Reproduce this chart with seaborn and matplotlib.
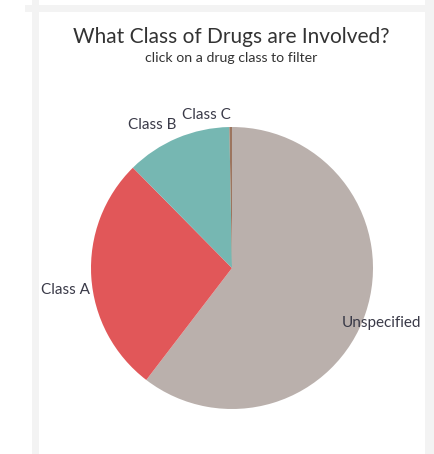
import numpy as np
import seaborn as sns
import matplotlib.pyplot as plt
from matplotlib.patches import Rectangle

# Datos del gráfico (porcentaje de casos por clase de droga)
classes = ["Unspecified", "Class A", "Class B", "Class C"]
shares = [60.4, 27.2, 12.1, 0.3]

palette = sns.color_palette(["#BAB0AC", "#E15759", "#76B7B2", "#9C755F"])

sns.set_theme(style="white")
plt.rcParams["font.family"] = ["Lato", "DejaVu Sans"]

fig = plt.figure(figsize=(4.34, 4.54), dpi=100)
fig.patch.set_facecolor("white")

# Marco gris del dashboard
W, H = 434, 454
frame_color = "#F3F3F3"
for x0, y0, w, h in [(32, 0, 7, 454), (25, 5, 400, 7), (425, 0, 9, 454)]:
    fig.patches.append(Rectangle((x0 / W, 1 - (y0 + h) / H), w / W, h / H,
                                 transform=fig.transFigure, facecolor=frame_color,
                                 edgecolor="none", zorder=0))

ax = fig.add_axes([55.75 / W, 9.75 / H, 352.5 / W, 352.5 / H])
wedges, _ = ax.pie(
    shares,
    colors=palette,
    startangle=90,
    counterclock=False,
    radius=1,
    wedgeprops=dict(linewidth=0),
)
ax.set_xlim(-1.25, 1.25)
ax.set_ylim(-1.25, 1.25)
ax.set_aspect("equal")
ax.axis("off")

# Etiquetas fuera de cada porción
label_dist = [1.13, 1.19, 1.16, 1.10]
label_shift = [-1.6, 3.9, 6.2, 8.8]
for wdg, name, d, s in zip(wedges, classes, label_dist, label_shift):
    theta = np.deg2rad((wdg.theta1 + wdg.theta2) / 2 + s)
    ax.text(d * np.cos(theta), d * np.sin(theta), name, ha="center", va="center",
            fontsize=11, color="#3a3a48")

fig.text(231.5 / W, 1 - 37 / H, "What Class of Drugs are Involved?",
         ha="center", va="center", fontsize=15, color="#333333")
fig.text(231 / W, 1 - 57.5 / H, "click on a drug class to filter",
         ha="center", va="center", fontsize=10.2, color="#333333")

plt.savefig("out.png", dpi=100)
